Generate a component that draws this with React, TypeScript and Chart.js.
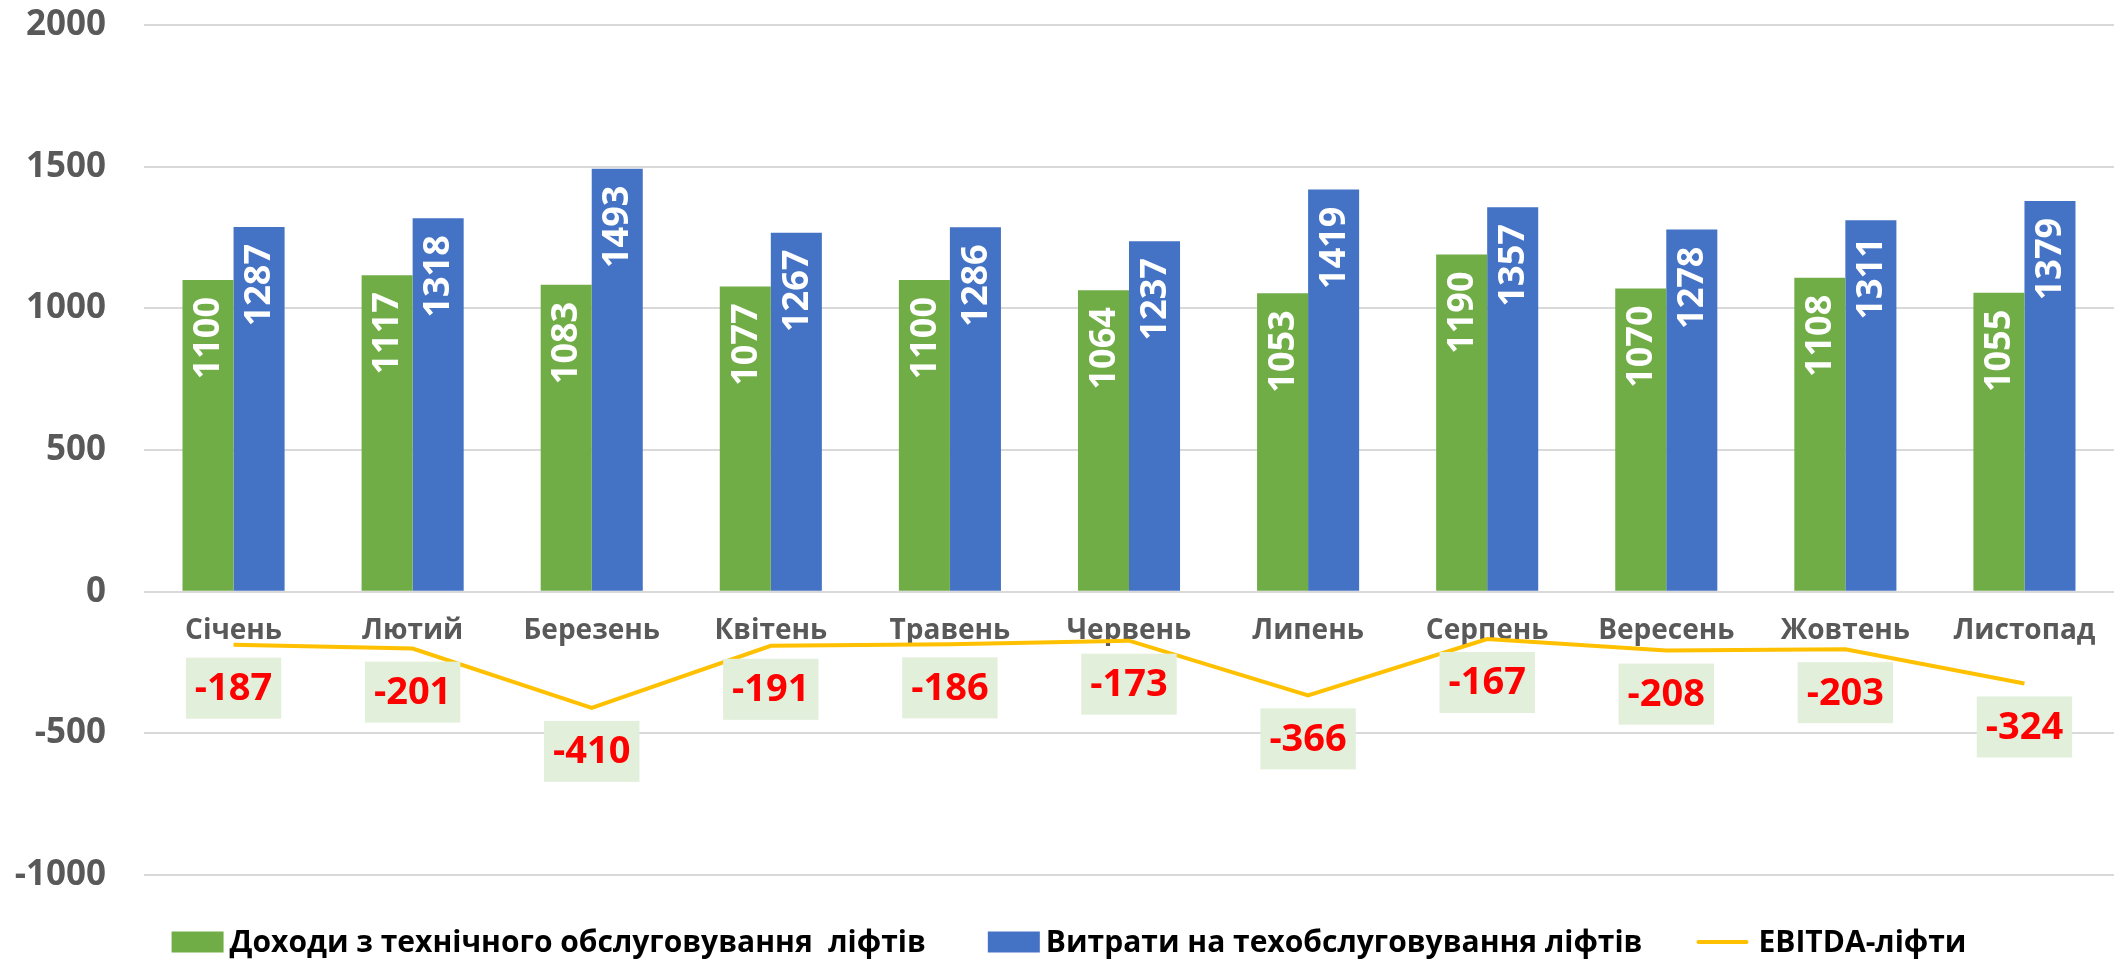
import React, { useEffect, useRef } from "react";
import { Chart, registerables } from "chart.js";

Chart.register(...registerables);

const months = ["Січень", "Лютий", "Березень", "Квітень", "Травень", "Червень", "Липень", "Серпень", "Вересень", "Жовтень", "Листопад"];
const revenue = [1100, 1117, 1083, 1077, 1100, 1064, 1053, 1190, 1070, 1108, 1055];
const costs = [1287, 1318, 1493, 1267, 1286, 1237, 1419, 1357, 1278, 1311, 1379];
const ebitda = [-187, -201, -410, -191, -186, -173, -366, -167, -208, -203, -324];
const seriesNames = ["Доходи з технічного обслуговування  ліфтів", "Витрати на техобслуговування ліфтів", "EBITDA-ліфти"];

const GREEN = "#70AD47";
const BLUE = "#4472C4";
const GOLD = "#FFC000";
const FONT = '"Open Sans", "Noto Sans", sans-serif';

const labelsPlugin = {
  id: "customLabels",
  afterDatasetsDraw(chart: any) {
    const ctx = chart.ctx;
    // Bar labels: rotated, inside end
    [0, 1].forEach((di) => {
      const meta = chart.getDatasetMeta(di);
      const data = chart.data.datasets[di].data;
      meta.data.forEach((el: any, i: number) => {
        ctx.save();
        ctx.translate(el.x + 1, el.y + 17);
        ctx.rotate(-Math.PI / 2);
        ctx.font = `bold 36px ${FONT}`;
        ctx.fillStyle = "#FFFFFF";
        ctx.textAlign = "right";
        ctx.textBaseline = "middle";
        ctx.fillText(String(data[i]), 0, 0);
        ctx.restore();
      });
    });
    // EBITDA labels below points with box
    const meta = chart.getDatasetMeta(2);
    const data = chart.data.datasets[2].data;
    meta.data.forEach((el: any, i: number) => {
      const txt = String(data[i]);
      ctx.save();
      ctx.font = `bold 38px ${FONT}`;
      const w = ctx.measureText(txt).width + 18;
      const h = 61;
      const top = el.y + 13;
      ctx.fillStyle = "#E2EFDA";
      ctx.fillRect(el.x - w / 2, top, w, h);
      ctx.fillStyle = "#FF0000";
      ctx.textAlign = "center";
      ctx.textBaseline = "middle";
      ctx.fillText(txt, el.x, top + h / 2 + 1);
      ctx.restore();
    });
  },
  afterDraw(chart: any) {
    const ctx = chart.ctx;
    const y = 942;
    ctx.save();
    ctx.font = `bold 30px ${FONT}`;
    const boxW = 52;
    const items = [
      { kind: "box", color: GREEN, text: seriesNames[0], gapText: 6 },
      { kind: "box", color: BLUE, text: seriesNames[1], gapText: 6 },
      { kind: "line", color: GOLD, text: seriesNames[2], gapText: 10 },
    ];
    const gaps = [62, 54];
    let total = 0;
    const widths = items.map((it) => ctx.measureText(it.text).width);
    items.forEach((it, i) => {
      total += boxW + it.gapText + widths[i];
      if (i < gaps.length) total += gaps[i];
    });
    let x = 1069 - total / 2;
    items.forEach((it, i) => {
      if (it.kind === "box") {
        ctx.fillStyle = it.color;
        ctx.fillRect(x, y - 10.5, boxW, 21);
      } else {
        ctx.strokeStyle = it.color;
        ctx.lineWidth = 4;
        ctx.lineCap = "round";
        ctx.beginPath();
        ctx.moveTo(x + 2, y);
        ctx.lineTo(x + boxW - 2, y);
        ctx.stroke();
      }
      x += boxW + it.gapText;
      ctx.fillStyle = "#000000";
      ctx.textAlign = "left";
      ctx.textBaseline = "middle";
      ctx.fillText(it.text, x, y + 1);
      x += widths[i];
      if (i < gaps.length) x += gaps[i];
    });
    ctx.restore();
  },
};

export default function App() {
  const ref = useRef<HTMLCanvasElement | null>(null);
  useEffect(() => {
    if (!ref.current) return;
    const chart = new Chart(ref.current, {
      type: "bar",
      data: {
        labels: months,
        datasets: [
          { type: "bar", label: seriesNames[0], data: revenue, backgroundColor: GREEN, borderWidth: 0, categoryPercentage: 0.57, barPercentage: 1.0, order: 2 },
          { type: "bar", label: seriesNames[1], data: costs, backgroundColor: BLUE, borderWidth: 0, categoryPercentage: 0.57, barPercentage: 1.0, order: 2 },
          { type: "line", label: seriesNames[2], data: ebitda, borderColor: GOLD, backgroundColor: GOLD, borderWidth: 4, pointRadius: 0, tension: 0, order: 1 } as any,
        ],
      },
      options: {
        animation: false,
        responsive: false,
        layout: { padding: { left: 0, right: 10, top: 25, bottom: 86 } },
        plugins: { legend: { display: false }, tooltip: { enabled: false } },
        scales: {
          x: {
            position: { y: 0 } as any,
            grid: { display: false, drawTicks: false },
            border: { display: false },
            ticks: { color: "#595959", font: { family: FONT, size: 28, weight: "bold" }, padding: 23, maxRotation: 0, autoSkip: false },
          },
          y: {
            min: -1000,
            max: 2000,
            ticks: {
              stepSize: 500,
              color: "#595959",
              font: { family: FONT, size: 35, weight: "bold" },
              padding: 38,
              callback: (v: any) => String(v),
            },
            grid: { color: "#D9D9D9", lineWidth: 2, drawTicks: false },
            border: { display: false },
            afterFit: (scale: any) => {
              scale.width = 144;
              scale.paddingTop = 21;
              scale.paddingBottom = 21;
            },
          },
        },
      },
      plugins: [labelsPlugin],
    });
    return () => chart.destroy();
  }, []);
  return (
    <div style={{ position: "absolute", left: 0, top: 0, width: 2124, height: 961 }}>
      <canvas ref={ref} width={2124} height={961} />
    </div>
  );
}
